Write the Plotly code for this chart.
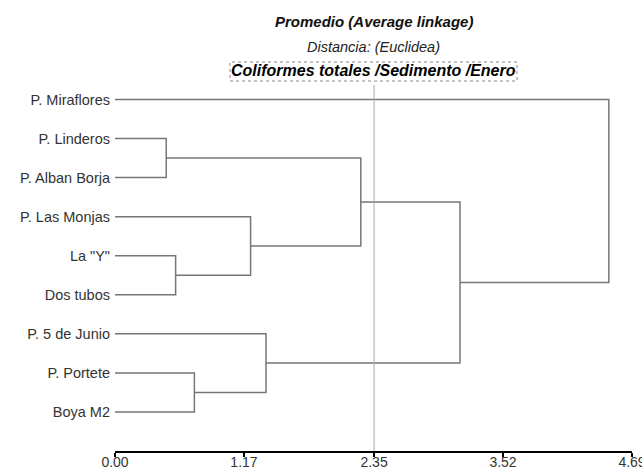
import plotly.graph_objects as go

# ---- data ----
leaves = ["P. Miraflores", "P. Linderos", "P. Alban Borja", "P. Las Monjas",
          'La "Y"', "Dos tubos", "P. 5 de Junio", "P. Portete", "Boya M2"]
# linkage rows: cluster ids 0..8 are leaves, 9.. are merged clusters (in order)
merge_left = [1, 4, 3, 7, 6, 9, 14, 0]
merge_right = [2, 5, 10, 8, 12, 11, 13, 15]
merge_height = [0.465, 0.55, 1.23, 0.72, 1.37, 2.23, 3.13, 4.48]
tick_vals = [0.00, 1.17, 2.35, 3.52, 4.69]
cut_level = 2.35
x_max = 4.69

# ---- build dendrogram coordinates ----
n = len(leaves)
pos_y = {i: float(i) for i in range(n)}
pos_h = {i: 0.0 for i in range(n)}
xs, ys = [], []
for k, (a, b, h) in enumerate(zip(merge_left, merge_right, merge_height)):
    cid = n + k
    ya, yb = pos_y[a], pos_y[b]
    xs += [pos_h[a], h, h, pos_h[b], None]
    ys += [ya, ya, yb, yb, None]
    pos_y[cid] = (ya + yb) / 2
    pos_h[cid] = h

fig = go.Figure()
fig.add_trace(go.Scatter(x=xs, y=ys, mode="lines",
                         line=dict(color="#777777", width=1.5),
                         hoverinfo="skip", showlegend=False))

fig.add_shape(type="line", xref="x", yref="paper", x0=cut_level, x1=cut_level,
              y0=0, y1=1, line=dict(color="#a8a8a8", width=1))

W, H = 642, 472
ml, mr, mt, mb = 115, 10, 85, 21
ph = H - mt - mb
pw = W - ml - mr


def py(p):
    return (H - mb - p) / ph


def px(p):
    return (p - ml) / pw


fig.add_annotation(text="<b><i>Promedio (Average linkage)</i></b>", xref="paper", yref="paper",
                   x=0.5, y=py(21), xanchor="center", yanchor="middle", showarrow=False,
                   font=dict(family="Liberation Sans, Arial", size=15, color="#111"))
fig.add_annotation(text="<i>Distancia: (Euclidea)</i>", xref="paper", yref="paper",
                   x=0.5, y=py(47), xanchor="center", yanchor="middle", showarrow=False,
                   font=dict(family="Liberation Sans, Arial", size=14.5, color="#222"))
fig.add_annotation(text="<b><i>Coliformes totales /Sedimento /Enero</i></b>", xref="paper", yref="paper",
                   x=0.5, y=py(71), xanchor="center", yanchor="middle", showarrow=False,
                   font=dict(family="Liberation Sans, Arial", size=16, color="#000"))
fig.add_shape(type="rect", xref="paper", yref="paper",
              x0=px(230), x1=px(517), y0=py(81), y1=py(62),
              line=dict(color="#888", width=1, dash="dot"))

fig.update_layout(
    width=W, height=H,
    margin=dict(l=ml, r=mr, t=mt, b=mb, pad=0),
    plot_bgcolor="white", paper_bgcolor="white",
    font=dict(family="Liberation Sans, Arial", size=14, color="#333"),
    xaxis=dict(range=[0, x_max], tickvals=tick_vals,
               ticktext=[f"{v:.2f}" for v in tick_vals],
               showline=True, linecolor="black", linewidth=2,
               ticks="outside", ticklen=4, tickwidth=2, tickcolor="black",
               showgrid=False, zeroline=False, automargin=False,
               ticklabelstandoff=-7, ticklabeloverflow="allow",
               tickfont=dict(size=14, color="#333")),
    yaxis=dict(range=[9.0, -0.37], tickvals=list(range(n)), ticktext=leaves,
               showline=False, showgrid=False, zeroline=False, ticks="",
               automargin=False, ticklabelstandoff=4,
               tickfont=dict(size=14.5, color="#333")),
)

fig.write_html("out.html", config={"displayModeBar": False},
               post_script="document.body.style.margin='0';document.body.style.padding='0';"
                           "document.body.style.overflow='hidden';")
